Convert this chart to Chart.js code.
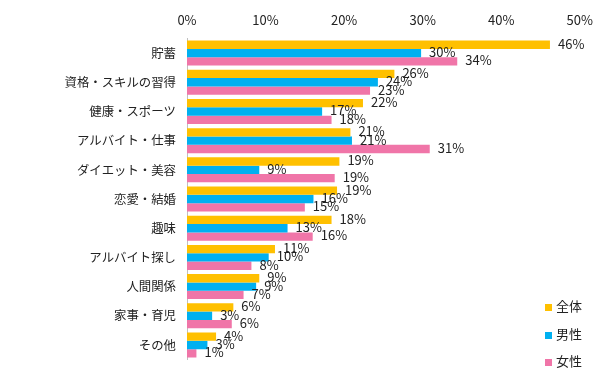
<!DOCTYPE html>
<html>
<head>
<meta charset="utf-8">
<script src="https://cdn.jsdelivr.net/npm/chart.js@4.4.0/dist/chart.umd.min.js"></script>
<style>
  html, body { margin: 0; padding: 0; background: #fff; }
  #wrap { position: relative; width: 604px; height: 378px; }
  .lg { position: absolute; left: 545px; font: 13px "Noto Sans CJK JP", sans-serif; color: #222; line-height: 14px; }
  .lg span.box { display: inline-block; width: 7px; height: 7px; margin-right: 4px; vertical-align: 0px; }
</style>
</head>
<body>
<div id="wrap">
  <canvas id="c" width="604" height="378"></canvas>
</div>
<script>
const categories = ["貯蓄", "資格・スキルの習得", "健康・スポーツ", "アルバイト・仕事", "ダイエット・美容", "恋愛・結婚", "趣味", "アルバイト探し", "人間関係", "家事・育児", "その他"];
const seriesNames = ["全体", "男性", "女性"];
const totalValues = [46.2, 26.4, 22.4, 20.8, 19.4, 19.1, 18.4, 11.2, 9.2, 5.9, 3.7];
const maleValues  = [29.8, 24.3, 17.2, 21.0, 9.2, 16.1, 12.8, 10.4, 8.8, 3.2, 2.6];
const femaleValues = [34.4, 23.3, 18.4, 30.9, 18.8, 15.0, 16.0, 8.2, 7.2, 5.7, 1.2];
const xTicks = [0, 10, 20, 30, 40, 50];
const colors = ["#FFC000", "#00B0F0", "#F075A8"];

const FONT = '"Noto Sans CJK JP", sans-serif';

const valueLabels = {
  id: 'valueLabels',
  afterDatasetsDraw(chart) {
    const ctx = chart.ctx;
    ctx.save();
    ctx.font = '13px ' + FONT;
    ctx.fillStyle = '#222';
    ctx.textAlign = 'left';
    ctx.textBaseline = 'middle';
    chart.data.datasets.forEach((ds, di) => {
      const meta = chart.getDatasetMeta(di);
      meta.data.forEach((el, i) => {
        ctx.fillText(Math.round(ds.data[i]) + '%', el.x + 8, el.y - 1);
      });
    });
    ctx.restore();
  }
};

new Chart(document.getElementById('c'), {
  type: 'bar',
  data: {
    labels: categories,
    datasets: [
      { label: seriesNames[0], data: totalValues, backgroundColor: colors[0] },
      { label: seriesNames[1], data: maleValues, backgroundColor: colors[1] },
      { label: seriesNames[2], data: femaleValues, backgroundColor: colors[2] }
    ]
  },
  options: {
    indexAxis: 'y',
    responsive: false,
    animation: false,
    layout: { padding: { left: 0, right: 22, top: 0, bottom: 6 } },
    datasets: { bar: { categoryPercentage: 0.857, barPercentage: 1.0 } },
    plugins: { legend: { display: false }, tooltip: { enabled: false } },
    scales: {
      x: {
        position: 'top',
        min: 0, max: 50,
        afterBuildTicks(scale) { scale.ticks = xTicks.map(v => ({ value: v })); },
        ticks: { callback: v => v + '%', color: '#222', font: { family: FONT, size: 13 }, padding: 11 },
        grid: { display: false, drawTicks: false },
        border: { display: false },
        afterFit(scale) { scale.height = 38.5; }
      },
      y: {
        ticks: { color: '#222', font: { family: FONT, size: 12.4 }, padding: 11 },
        grid: { display: false, drawTicks: false },
        border: { display: true, color: '#BFBFBF', width: 1 },
        afterFit(scale) { scale.width = 187; }
      }
    }
  },
  plugins: [valueLabels]
});

// legend (HTML text)
const wrap = document.getElementById('wrap');
const legendTops = [299, 327, 354];
seriesNames.forEach((n, i) => {
  const d = document.createElement('div');
  d.className = 'lg';
  d.style.top = legendTops[i] + 'px';
  d.innerHTML = '<span class="box" style="background:' + colors[i] + '"></span>' + n;
  wrap.appendChild(d);
});
</script>
</body>
</html>
